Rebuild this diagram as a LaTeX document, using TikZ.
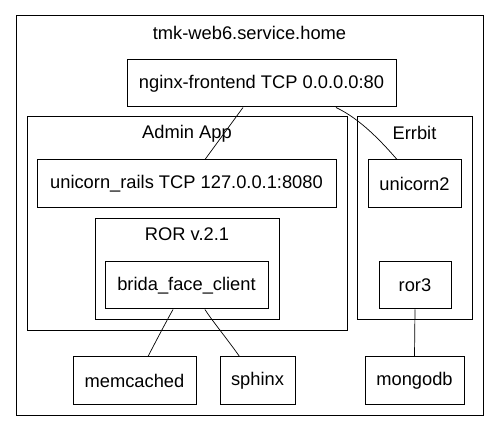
\documentclass[tikz,border=0pt]{standalone}
\usepackage{fontspec}
\setmainfont{Liberation Sans}
\begin{document}
\begin{tikzpicture}[x=1pt,y=-1pt,
  box/.style={draw, line width=1pt, inner sep=0pt, font=\fontsize{18.3}{22}\selectfont},
  lbl/.style={inner sep=0pt, font=\fontsize{18.3}{22}\selectfont},
  edge/.style={line width=0.7pt}]
\useasboundingbox[fill=white] (0,0) rectangle (499,443);
% containers
\node[box, minimum width=467pt, minimum height=400pt] (outer) at (249.5,216) {};
\node[lbl] (title) at (249.5,33) {tmk-web6.service.home};
\node[box, minimum width=320pt, minimum height=214pt] (admin) at (187,224) {};
\node[lbl] (adminlbl) at (187,134) {Admin App};
\node[box, minimum width=115pt, minimum height=203pt] (errbit) at (414.5,218.5) {};
\node[lbl] (errbitlbl) at (414.5,133) {Errbit};
\node[box, minimum width=184pt, minimum height=101pt] (ror) at (187,269.5) {};
\node[lbl] (rorlbl) at (187,234) {ROR v.2.1};
% nodes
\node[box, minimum width=269pt, minimum height=47pt] (nginx) at (261.5,83.5) {nginx-frontend TCP 0.0.0.0:80};
\node[box, minimum width=299pt, minimum height=48pt] (rails) at (186.5,184) {unicorn\_rails TCP 127.0.0.1:8080};
\node[box, minimum width=93pt, minimum height=48pt] (unicorn2) at (414.5,184) {unicorn2};
\node[box, minimum width=163pt, minimum height=47pt] (brida) at (186.5,285.5) {brida\_face\_client};
\node[box, minimum width=72pt, minimum height=47pt] (ror3) at (415,285.5) {ror3};
\node[box, minimum width=123pt, minimum height=48pt] (memcached) at (134.5,381) {memcached};
\node[box, minimum width=75pt, minimum height=48pt] (sphinx) at (257.5,381) {sphinx};
\node[box, minimum width=99pt, minimum height=48pt] (mongodb) at (414.5,381) {mongodb};
% edges
\draw[edge] ([xshift=-18.5pt]nginx.south) -- ([xshift=18.5pt]rails.north);
\draw[edge] ([xshift=74.5pt]nginx.south) .. controls (356,117) and (375,134) .. ([xshift=-17.5pt]unicorn2.north);
\draw[edge] ([xshift=-13.5pt]brida.south) .. controls (166,322) and (156,341) .. ([xshift=13.5pt]memcached.north);
\draw[edge] ([xshift=18.5pt]brida.south) .. controls (210,318) and (228,340) .. ([xshift=-18pt]sphinx.north);
\draw[edge] (ror3.south) -- (mongodb.north);
\end{tikzpicture}
\end{document}
